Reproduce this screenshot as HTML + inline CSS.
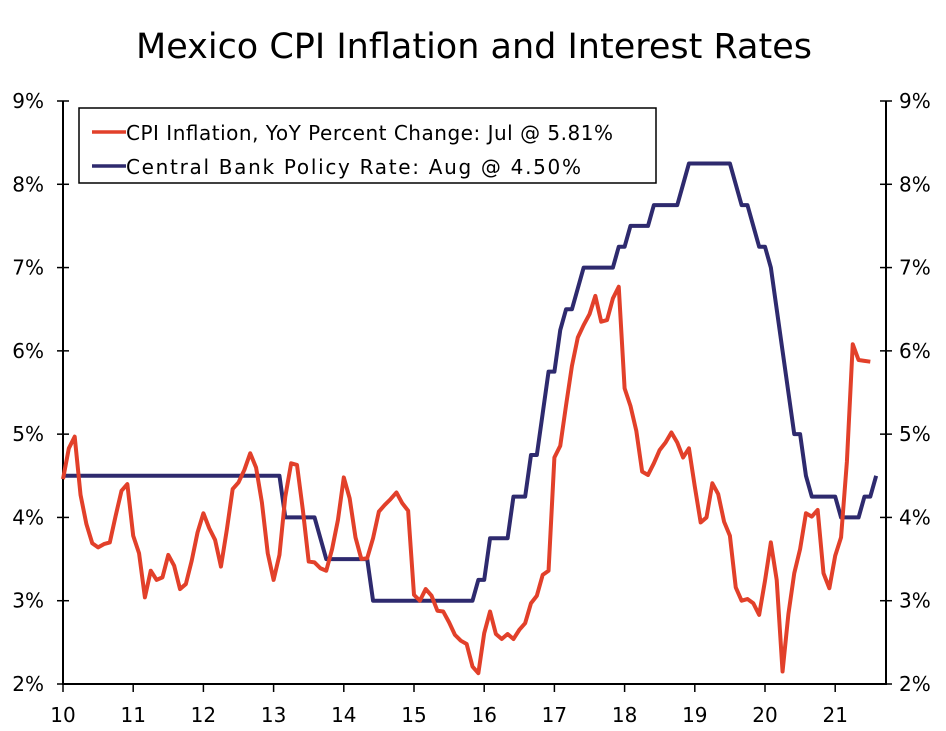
<!DOCTYPE html>
<html><head><meta charset="utf-8"><style>
body{margin:0;background:#fff;}
svg text{font-family:"DejaVu Sans","Liberation Sans",sans-serif;fill:#000;}
</style></head><body>
<svg id="chart" width="946" height="726" xmlns="http://www.w3.org/2000/svg">
<text x="474" y="58" text-anchor="middle" font-size="35">Mexico CPI Inflation and Interest Rates</text>
<g id="axes"></g>
<g id="series"></g>
<g>
<rect x="79" y="108" width="577" height="75" fill="#fff" stroke="#000" stroke-width="1.5"/>
<line x1="92" y1="132" x2="126" y2="132" stroke="#e2402a" stroke-width="3.5"/>
<text x="126" y="140" font-size="20" textLength="487">CPI Inflation, YoY Percent Change: Jul @ 5.81%</text>
<line x1="92" y1="166" x2="126" y2="166" stroke="#2e2a6e" stroke-width="3.5"/>
<text x="126" y="174" font-size="20" textLength="455">Central Bank Policy Rate: Aug @ 4.50%</text>
</g>
</svg>
<script>
const yTicks=[2,3,4,5,6,7,8,9];
const yearLabels=["10","11","12","13","14","15","16","17","18","19","20","21"];
const cpi=[4.46,4.83,4.97,4.27,3.92,3.69,3.64,3.68,3.70,4.02,4.32,4.40,
3.78,3.57,3.04,3.36,3.25,3.28,3.55,3.42,3.14,3.20,3.48,3.82,
4.05,3.87,3.73,3.41,3.85,4.34,4.42,4.57,4.77,4.60,4.18,3.57,
3.25,3.55,4.25,4.65,4.63,4.09,3.47,3.46,3.39,3.36,3.62,3.97,
4.48,4.23,3.76,3.50,3.51,3.75,4.07,4.15,4.22,4.30,4.17,4.08,
3.07,3.00,3.14,3.06,2.88,2.87,2.74,2.59,2.52,2.48,2.21,2.13,
2.61,2.87,2.60,2.54,2.60,2.54,2.65,2.73,2.97,3.06,3.31,3.36,
4.72,4.86,5.35,5.82,6.16,6.31,6.44,6.66,6.35,6.37,6.63,6.77,
5.55,5.34,5.04,4.55,4.51,4.65,4.81,4.90,5.02,4.90,4.72,4.83,
4.37,3.94,4.00,4.41,4.28,3.95,3.78,3.16,3.00,3.02,2.97,2.83,
3.24,3.70,3.25,2.15,2.84,3.33,3.62,4.05,4.01,4.09,3.33,3.15,
3.54,3.76,4.67,6.08,5.89,5.88,5.87];
const policy=[4.5,4.5,4.5,4.5,4.5,4.5,4.5,4.5,4.5,4.5,4.5,4.5,
4.5,4.5,4.5,4.5,4.5,4.5,4.5,4.5,4.5,4.5,4.5,4.5,
4.5,4.5,4.5,4.5,4.5,4.5,4.5,4.5,4.5,4.5,4.5,4.5,
4.5,4.5,4.0,4.0,4.0,4.0,4.0,4.0,3.75,3.5,3.5,3.5,
3.5,3.5,3.5,3.5,3.5,3.0,3,3,3,3,3,3,
3,3,3,3,3,3,3,3,3,3,3,3.25,
3.25,3.75,3.75,3.75,3.75,4.25,4.25,4.25,4.75,4.75,5.25,5.75,
5.75,6.25,6.5,6.5,6.75,7.0,7,7,7,7,7,7.25,
7.25,7.5,7.5,7.5,7.5,7.75,7.75,7.75,7.75,7.75,8.0,8.25,
8.25,8.25,8.25,8.25,8.25,8.25,8.25,8.0,7.75,7.75,7.5,7.25,
7.25,7.0,6.5,6.0,5.5,5.0,5.0,4.5,4.25,4.25,4.25,4.25,
4.25,4.0,4.0,4.0,4.0,4.25,4.25,4.5];
const L=63,R=886,T=101,B=684,yMin=2,yMax=9,yearPx=70.2;
const xPos=i=>L+i*yearPx/12;
const yPos=v=>B-(v-yMin)/(yMax-yMin)*(B-T);
const NS="http://www.w3.org/2000/svg";
const axes=document.getElementById('axes'),series=document.getElementById('series');
function mk(tag,attrs,parent){const e=document.createElementNS(NS,tag);for(const k in attrs)e.setAttribute(k,attrs[k]);parent.appendChild(e);return e;}
const la=mk('line',{x1:L,y1:T,x2:L,y2:B+1,stroke:'#000','stroke-width':2},axes);


const ra=mk('line',{x1:R,y1:T,x2:R,y2:B+1,stroke:'#000','stroke-width':2},axes);


const xa=mk('line',{x1:L,y1:B,x2:R,y2:B,stroke:'#000','stroke-width':2},axes);


yTicks.forEach(v=>{const y=yPos(v);
mk('line',{x1:L-6,y1:y,x2:L+6,y2:y,stroke:'#000','stroke-width':1.5},axes);
mk('line',{x1:R-6,y1:y,x2:R+6,y2:y,stroke:'#000','stroke-width':1.5},axes);
const t1=mk('text',{x:44,y:y+7,'text-anchor':'end','font-size':20},axes);t1.textContent=v+'%';


const t2=mk('text',{x:899,y:y+7,'font-size':20},axes);t2.textContent=v+'%';

});
yearLabels.forEach((s,i)=>{const x=L+i*yearPx;
mk('line',{x1:x,y1:B,x2:x,y2:B+8,stroke:'#000','stroke-width':1.5},axes);
const t=mk('text',{x:x,y:722,'text-anchor':'middle','font-size':20},axes);t.textContent=s;

});
const pl=mk('polyline',{points:policy.map((v,i)=>xPos(i)+','+yPos(v)).join(' '),fill:'none',stroke:'#2e2a6e','stroke-width':4,'stroke-linejoin':'round'},series);


const cl=mk('polyline',{points:cpi.map((v,i)=>xPos(i)+','+yPos(v)).join(' '),fill:'none',stroke:'#e2402a','stroke-width':4,'stroke-linejoin':'round'},series);


</script>
</body></html>
